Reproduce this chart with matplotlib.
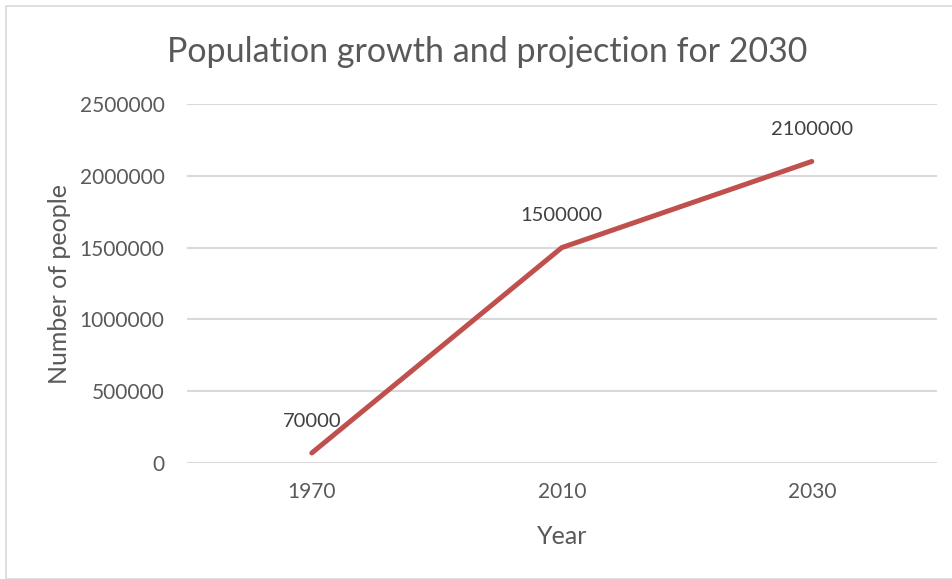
import matplotlib.pyplot as plt
from matplotlib.patches import Rectangle

years = ['1970', '2010', '2030']
population = [70000, 1500000, 2100000]
yticks = [0, 500000, 1000000, 1500000, 2000000, 2500000]

text_color = '#595959'
line_color = '#C0504D'
grid_color = '#D9D9D9'

plt.rcParams['font.family'] = ['Lato', 'DejaVu Sans']

fig = plt.figure(figsize=(9.53, 5.79), dpi=100)
ax = fig.add_axes([0.196, 0.2003, 0.787, 0.6201])

# light border around chart area
fig.patches.append(Rectangle((0.006, 0.0), 0.994, 0.99, transform=fig.transFigure,
                             fill=False, edgecolor='#D9D9D9', linewidth=1.2))

x = range(len(years))
ax.plot(x, population, color=line_color, linewidth=3.6, solid_capstyle='round',
        solid_joinstyle='round', zorder=3)

for xi, v in zip(x, population):
    ax.annotate(str(v), (xi, v), xytext=(0, 23), textcoords='offset points',
                ha='center', va='center', fontsize=14.5, color='#404040')

ax.set_xlim(-0.5, 2.5)
ax.set_ylim(0, 2500000)
ax.set_xticks(list(x))
ax.set_xticklabels(years)
ax.set_yticks(yticks)
ax.set_yticklabels([str(t) for t in yticks])
ax.tick_params(length=0, labelsize=15, labelcolor=text_color)
ax.tick_params(axis='y', pad=16)
ax.tick_params(axis='x', pad=14)

ax.grid(axis='y', color=grid_color, linewidth=1.5)
ax.set_axisbelow(True)
for s in ax.spines.values():
    s.set_visible(False)

ax.set_xlabel('Year', fontsize=18, color=text_color, labelpad=16)
ax.set_ylabel('Number of people', fontsize=18, color=text_color, labelpad=6)
fig.text(0.511, 0.91, 'Population growth and projection for 2030', ha='center', va='center',
         fontsize=24.5, color=text_color)

fig.savefig('out.png', dpi=100)
